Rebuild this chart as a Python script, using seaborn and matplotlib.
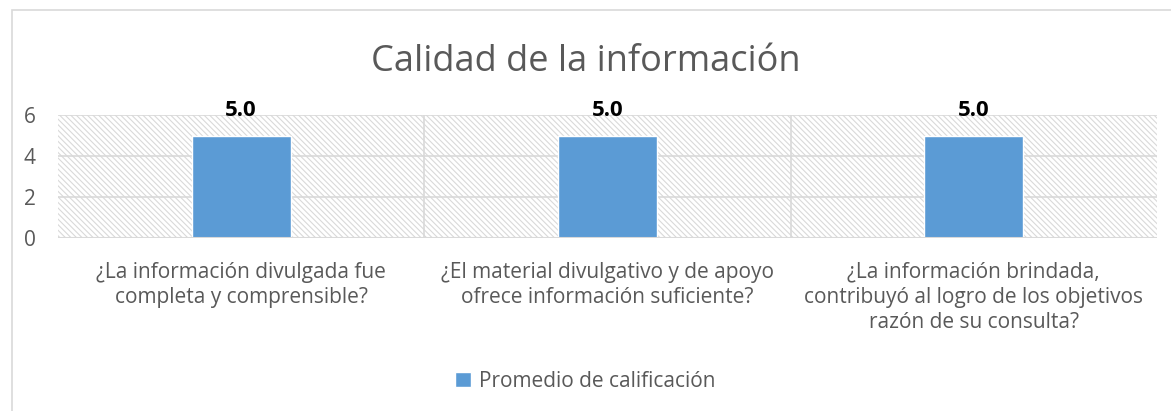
import matplotlib
matplotlib.use('Agg')
import matplotlib.pyplot as plt
from matplotlib.patches import Rectangle
import seaborn as sns
import pandas as pd

# Chart data
preguntas = [
    '¿La información divulgada fue\ncompleta y comprensible?',
    '¿El material divulgativo y de apoyo\nofrece información suficiente?',
    '¿La información brindada,\ncontribuyó al logro de los objetivos\nrazón de su consulta?',
]
promedios = [5.0, 5.0, 5.0]
serie = 'Promedio de calificación'
y_ticks = [0, 2, 4, 6]

df = pd.DataFrame({'pregunta': preguntas, 'valor': promedios})

sns.set_style('white')
plt.rcParams['font.family'] = ['Open Sans', 'DejaVu Sans']
plt.rcParams['hatch.color'] = '#d9d9d9'
plt.rcParams['hatch.linewidth'] = 0.8

gris = '#595959'
azul = '#5b9bd5'

fig = plt.figure(figsize=(11.71, 4.11), dpi=100)
ax = fig.add_axes([0.0495, 0.421, 0.9385, 0.299])

# hatched plot background
ax.add_patch(Rectangle((0, 0), 1, 1, transform=ax.transAxes, facecolor='white',
                       edgecolor='#d9d9d9', hatch='\\\\\\\\\\\\', lw=0, zorder=0))

sns.barplot(data=df, x='pregunta', y='valor', color=azul, width=0.27,
            saturation=1, ax=ax, label=serie, zorder=3)

ax.set_ylim(0, 6)
ax.set_xlim(-0.5, len(preguntas) - 0.5)
ax.set_yticks(y_ticks)
ax.set_xlabel('')
ax.set_ylabel('')

# grid lines
for y in y_ticks[1:]:
    ax.axhline(y, color='#d9d9d9', lw=1.2, zorder=1)
for i in range(1, len(preguntas)):
    ax.axvline(i - 0.5, color='#d9d9d9', lw=1.2, zorder=1)
ax.axhline(0, color='#d9d9d9', lw=1.5, zorder=4)

for s in ['top', 'right', 'left', 'bottom']:
    ax.spines[s].set_visible(False)
ax.tick_params(axis='both', length=0, colors=gris)
ax.tick_params(axis='y', pad=16, labelsize=15)
ax.tick_params(axis='x', pad=17, labelsize=15)
for lbl in ax.get_xticklabels():
    lbl.set_linespacing(1.26)

for i, v in enumerate(promedios):
    ax.text(i, v + 1.2, f'{v:.1f}', ha='center', va='center', fontsize=16,
            fontweight='bold', color='black', zorder=5)

fig.text(0.5, 0.848, 'Calidad de la información', ha='center', va='center',
         fontsize=26, color=gris)

leg = fig.legend(*ax.get_legend_handles_labels(), loc='center',
                 bbox_to_anchor=(0.5, 0.072), frameon=False, fontsize=15,
                 handlelength=0.75, handleheight=0.75, handletextpad=0.4)
for t in leg.get_texts():
    t.set_color(gris)
if ax.get_legend() is not None:
    ax.get_legend().remove()

# outer chart frame
fig.patches.append(Rectangle((12 / 1171, -0.1), 1.1, 1 - 10 / 411 + 0.1,
                             transform=fig.transFigure, fill=False,
                             edgecolor='#d9d9d9', lw=1.2))

fig.savefig('out.png', dpi=100)
